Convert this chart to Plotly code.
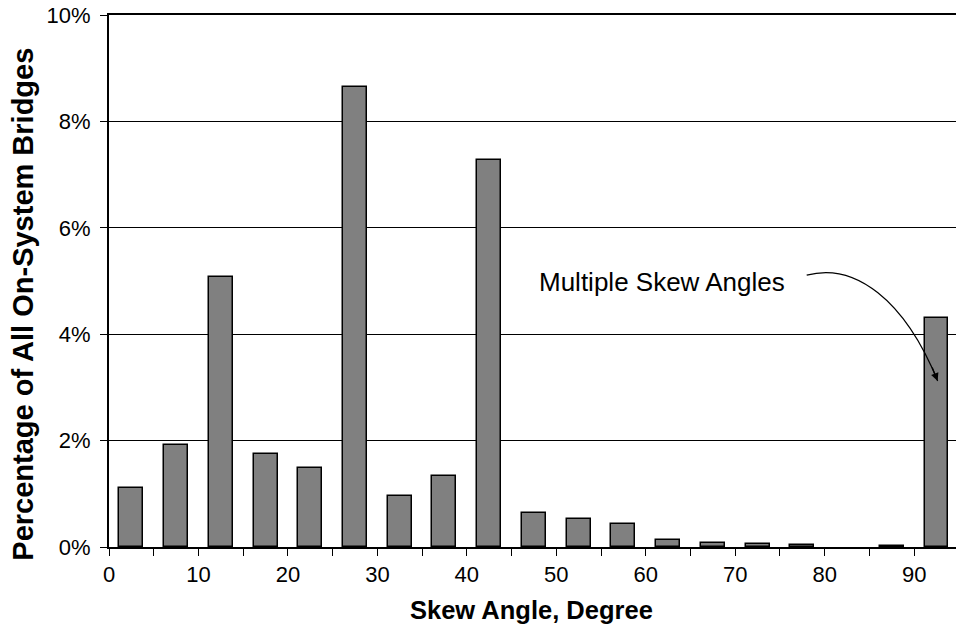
import plotly.graph_objects as go

# Skew-angle bins (lower edge, degrees); the last bin holds bridges with multiple skew angles
bin_start = [0, 5, 10, 15, 20, 25, 30, 35, 40, 45, 50, 55, 60, 65, 70, 75, 80, 85, 90]
share_pct = [1.10, 1.91, 5.08, 1.75, 1.49, 8.65, 0.95, 1.33, 7.27, 0.63,
             0.52, 0.44, 0.14, 0.08, 0.05, 0.03, 0.0, 0.01, 4.31]
bin_width = 5

x_tick_vals = list(range(0, 95, 5))
x_tick_text = [str(v) if v % 10 == 0 else "" for v in x_tick_vals]
y_tick_vals = [0, 2, 4, 6, 8, 10]
y_tick_text = [f"{v}%" for v in y_tick_vals]

FONT = "Arial, 'Liberation Sans', sans-serif"

centers = [s + bin_width / 2 for s in bin_start]
# empty bins get no outline so nothing is drawn for them
outline_w = [1.5 if v > 0 else 0 for v in share_pct]

fig = go.Figure()
fig.add_trace(go.Bar(
    x=centers,
    y=share_pct,
    width=2.68,
    marker=dict(color="#808080", line=dict(color="black", width=outline_w)),
    hoverinfo="skip",
))

# Curved leader from the note to the last bar
fig.add_shape(
    type="path",
    xref="x", yref="y",
    path="M 77.99 5.110 C 83.39 5.355, 88.94 4.645, 92.63 3.122",
    line=dict(color="black", width=1.2),
)
fig.add_annotation(
    x=92.63, y=3.122, ax=91.96, ay=3.404,
    xref="x", yref="y", axref="x", ayref="y",
    text="", showarrow=True, arrowhead=2, arrowsize=1.3, arrowwidth=1.2,
    arrowcolor="black", standoff=0, startstandoff=0,
)
fig.add_annotation(
    x=61.82, y=4.984, xref="x", yref="y",
    text="Multiple Skew Angles", showarrow=False,
    font=dict(family=FONT, size=26, color="black"),
    xanchor="center", yanchor="middle",
)

# Axis titles
fig.add_annotation(
    x=0.4994, y=-0.119, xref="paper", yref="paper",
    text="<b>Skew Angle, Degree</b>", showarrow=False,
    font=dict(family=FONT, size=25.5, color="black"),
    xanchor="center", yanchor="middle",
)
fig.add_annotation(
    x=-0.1009, y=0.4565, xref="paper", yref="paper",
    text="<b>Percentage of All On-System Bridges</b>", showarrow=False,
    textangle=-90,
    font=dict(family=FONT, size=29, color="black"),
    xanchor="center", yanchor="middle",
)

fig.update_layout(
    width=956, height=627,
    margin=dict(l=109, r=0, t=15, b=80, pad=0),
    paper_bgcolor="white", plot_bgcolor="white",
    showlegend=False,
    bargap=0,
    font=dict(family=FONT, size=22, color="black"),
)
fig.update_xaxes(
    range=[0, 94.68],
    tickmode="array", tickvals=x_tick_vals, ticktext=x_tick_text,
    ticks="outside", ticklen=7, tickwidth=1.2, tickcolor="black",
    showline=True, linecolor="black", linewidth=2, mirror=True,
    showgrid=False, zeroline=False,
    tickfont=dict(family=FONT, size=22, color="black"),
)
fig.update_yaxes(
    range=[0, 10],
    tickmode="array", tickvals=y_tick_vals, ticktext=y_tick_text,
    ticks="outside", ticklen=7, tickwidth=1.2, tickcolor="black",
    ticklabelstandoff=5,
    showline=True, linecolor="black", linewidth=2,
    showgrid=True, gridcolor="black", gridwidth=1,
    zeroline=False,
    tickfont=dict(family=FONT, size=22, color="black"),
)

fig.write_html("out.html")
